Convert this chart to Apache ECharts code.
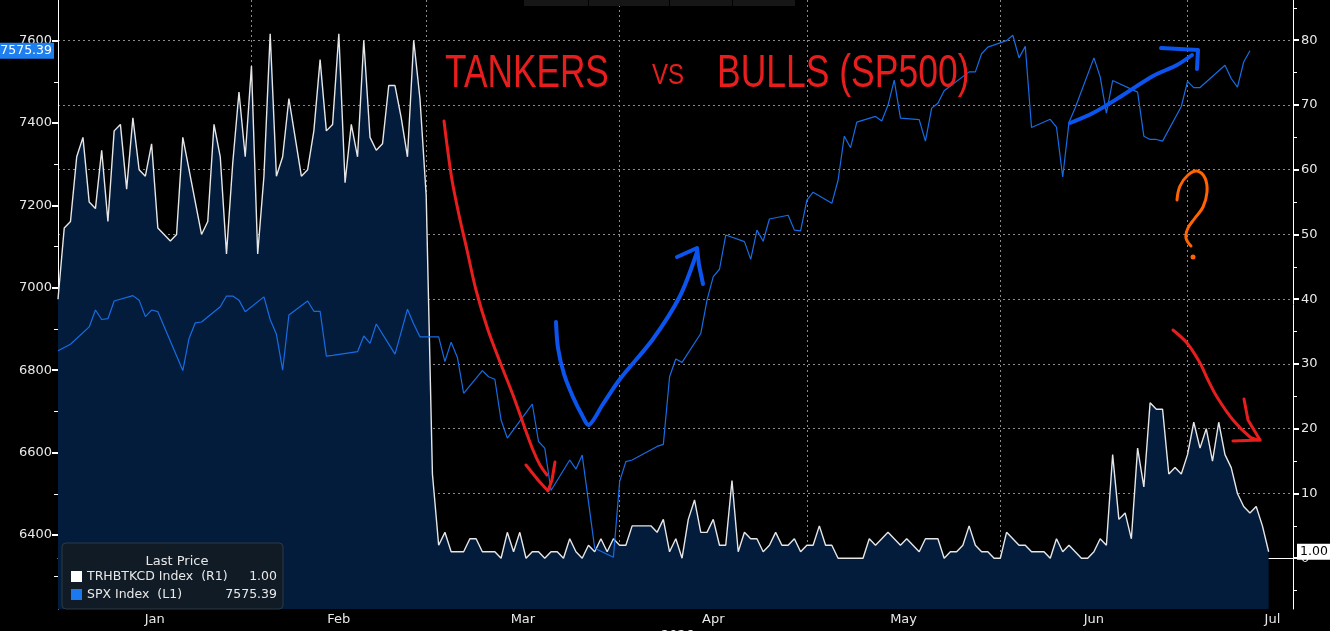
<!DOCTYPE html>
<html>
<head>
<meta charset="utf-8">
<title>Tankers vs Bulls</title>
<script src="https://cdn.jsdelivr.net/npm/echarts@6/dist/echarts.min.js"></script>
<style>
  html, body { margin: 0; padding: 0; background: #000; }
  #chart { width: 1330px; height: 631px; }
</style>
</head>
<body>
<div id="chart"></div>
<script>
var startDate = '2025-12-31';
var tankerName = 'TRHBTKCD Index';
var spxName = 'SPX Index';
var monthNames = ['Jan', 'Feb', 'Mar', 'Apr', 'May', 'Jun', 'Jul'];
var leftTicks = [6400, 6600, 6800, 7000, 7200, 7400, 7600];
var rightTicks = [0, 10, 20, 30, 40, 50, 60, 70, 80];
var holidays = ['2026-01-01', '2026-01-19', '2026-02-16', '2026-04-03', '2026-05-25', '2026-06-19', '2026-07-03'];

// TRHBTKCD, one value per calendar day from 2025-12-31
var tankerValues = [
  40, 51, 52, 62, 65, 55, 54, 63, 52, 66,
  67, 57, 68, 60, 59, 64, 51, 50, 49, 50,
  65, 60, 55, 50, 52, 67, 62, 47, 61, 72,
  62, 76, 47, 59, 81, 59, 62, 71, 65, 59,
  60, 66, 77, 66, 67, 81, 58, 67, 62, 80,
  65, 63, 64, 73, 73, 68, 62, 80, 71, 56,
  13, 2, 4, 1, 1, 1, 3, 3, 1, 1,
  1, 0, 4, 1, 4, 0, 1, 1, 0, 1,
  1, 0, 3, 1, 0, 2, 1, 3, 1, 3,
  2, 2, 5, 5, 5, 5, 4, 6, 1, 3,
  0, 6, 9, 4, 4, 6, 2, 2, 12, 1,
  4, 3, 3, 1, 2, 4, 2, 2, 3, 1,
  2, 2, 5, 2, 2, 0, 0, 0, 0, 0,
  3, 2, 3, 4, 3, 2, 3, 2, 1, 3,
  3, 3, 0, 1, 1, 2, 5, 2, 1, 1,
  0, 0, 4, 3, 2, 2, 1, 1, 1, 0,
  3, 1, 2, 1, 0, 0, 1, 3, 2, 16,
  6, 7, 3, 17, 11, 24, 23, 23, 13, 14,
  13, 16, 21, 17, 20, 15, 21, 16, 14, 10,
  8, 7, 8, 5, 1
];

// SPX, one value per trading day from 2025-12-31
var spxValues = [
  6847,
  6863, 6905, 6946, 6923, 6925, 6968, 6981, 6970, 6930, 6946, 6942,
  6799, 6877, 6915, 6917, 6954, 6980, 6980, 6970, 6942,
  6978, 6923, 6887, 6800, 6934, 6968, 6943, 6943, 6834, 6836,
  6845, 6883, 6865, 6912, 6839, 6893, 6948, 6912, 6881,
  6881, 6821, 6868, 6831, 6744, 6799, 6784, 6778, 6679, 6635,
  6697, 6718, 6627, 6611, 6508, 6582, 6560, 6594, 6481, 6368,
  6346, 6530,
  6578, 6582, 6615, 6620, 6784, 6827, 6819, 6889, 6970, 7027, 7045, 7128,
  7112, 7069, 7140, 7113, 7167, 7176, 7140, 7138, 7213,
  7232, 7205, 7261, 7368, 7340, 7402, 7416, 7405, 7443, 7504, 7412,
  7408, 7356, 7436, 7448, 7478, 7524, 7524, 7568, 7584,
  7600, 7613, 7558, 7586, 7389, 7409, 7390, 7269, 7401, 7437,
  7558, 7512, 7424, 7503, 7475, 7368, 7360, 7360, 7356, 7440, 7501,
  7486, 7486, 7540, 7508, 7487, 7548, 7575.39
];

var DAY = 86400000;
var start = Date.parse(startDate + 'T00:00:00Z');
var xMax = 197.9;

function isoOf(d) {
  return new Date(start + d * DAY).toISOString().slice(0, 10);
}

var tankerData = tankerValues.map(function (v, i) { return [i, v]; });

var spxData = [];
for (var d = 0; spxData.length < spxValues.length; d++) {
  var wd = new Date(start + d * DAY).getUTCDay();
  if (wd === 0 || wd === 6 || holidays.indexOf(isoOf(d)) >= 0) continue;
  spxData.push([d, spxValues[spxData.length]]);
}

// month boundaries (last day of each month) and label spots (middle of the month)
var monthEnds = [], monthMids = [];
monthNames.forEach(function (m, i) {
  var a = (Date.UTC(2026, i, 0) - start) / DAY;
  var b = (Date.UTC(2026, i + 1, 0) - start) / DAY;
  if (i > 0) monthEnds.push(a);
  monthMids.push(Math.min((a + b) / 2, xMax - 3.3));
});

var tankerLast = tankerValues[tankerValues.length - 1];
var spxLast = spxValues[spxValues.length - 1];

var labelFont = { color: '#e8e8e8', fontSize: 13, fontFamily: 'DejaVu Sans' };
var gridDash = { color: '#8a8a8a', width: 1, type: [2, 3] };
var plain = function (v) { return String(v); };

var redInk = '#e81e1e', blueInk = '#0b55ee', orangeInk = '#ff6400';
function ink (points, color, width, smooth) {
  return {
    type: 'polyline', z: 100,
    shape: { points: points, smooth: smooth },
    style: { stroke: color, lineWidth: width, fill: null, lineCap: 'round', lineJoin: 'round' }
  };
}
function scrawl (text, x, y, size, sx) {
  return {
    type: 'text', x: x, y: y, scaleX: sx, z: 100,
    style: { text: text, fill: redInk, fontSize: size, fontFamily: 'Liberation Sans', verticalAlign: 'middle' }
  };
}

var chart = echarts.init(document.getElementById('chart'));
chart.setOption({
  backgroundColor: '#000',
  animation: false,
  grid: { left: 58, right: 37, top: 0, bottom: 22 },
  title: {
    text: 'Last Price', left: 172, top: 550, textAlign: 'center',
    textStyle: { color: '#e8e8e8', fontSize: 13, fontWeight: 'normal', fontFamily: 'DejaVu Sans' }
  },
  legend: {
    data: [tankerName, spxName],
    orient: 'vertical', left: 62, top: 543,
    padding: [27, 6, 8, 9], itemGap: 5, itemWidth: 11, itemHeight: 11,
    icon: 'rect', selectedMode: false,
    backgroundColor: '#111b26', borderColor: '#2c3947', borderWidth: 1, borderRadius: 4,
    textStyle: {
      color: '#e8e8e8', fontSize: 12, fontFamily: 'DejaVu Sans',
      rich: { n: { width: 148, fontSize: 12.5, fontFamily: 'DejaVu Sans' }, v: { width: 42, align: 'right', fontSize: 12.5, fontFamily: 'DejaVu Sans' } }
    },
    formatter: function (name) {
      if (name === tankerName) return '{n|' + name + '  (R1)}{v|' + tankerLast.toFixed(2) + '}';
      return '{n|' + name + '  (L1)}{v|' + spxLast.toFixed(2) + '}';
    }
  },
  xAxis: {
    type: 'value', min: 0, max: xMax,
    axisLine: { lineStyle: { color: '#ffffff', width: 1 } },
    axisTick: { customValues: monthEnds, length: 4, lineStyle: { color: '#ffffff' } },
    axisLabel: Object.assign({
      customValues: monthMids, margin: 4,
      formatter: function (v) {
        for (var i = 0; i < monthMids.length; i++) if (Math.abs(monthMids[i] - v) < 0.01) return monthNames[i];
        return '';
      }
    }, labelFont),
    splitLine: { show: true, lineStyle: gridDash }
  },
  yAxis: [{
    type: 'value', position: 'left', min: 6220.4, max: 7698.5,
    minInterval: 200, maxInterval: 200,
    axisLine: { show: true, lineStyle: { color: '#ffffff' } },
    axisTick: { show: true, customValues: leftTicks, length: 6, lineStyle: { color: '#ffffff', width: 2 } },
    minorTick: { show: true, splitNumber: 2, length: 4, lineStyle: { color: '#ffffff' } },
    axisLabel: Object.assign({ customValues: leftTicks, margin: 6, formatter: plain }, labelFont),
    splitLine: { show: false }
  }, {
    type: 'value', position: 'right', min: -7.84, max: 86.21,
    minInterval: 10, maxInterval: 10,
    axisLine: { show: true, lineStyle: { color: '#ffffff' } },
    axisTick: { show: true, customValues: rightTicks, length: 6, lineStyle: { color: '#ffffff', width: 2 } },
    minorTick: { show: true, splitNumber: 2, length: 4, lineStyle: { color: '#ffffff' } },
    axisLabel: Object.assign({ customValues: rightTicks, margin: 8, formatter: plain }, labelFont),
    splitLine: { show: true, lineStyle: gridDash }
  }],
  series: [{
    name: tankerName, type: 'line', yAxisIndex: 1,
    data: tankerData, symbol: 'none',
    itemStyle: { color: '#ffffff' },
    lineStyle: { color: '#e6e6e6', width: 1.4 },
    areaStyle: { color: '#031c3b', opacity: 1, origin: 'start' },
    markLine: {
      silent: true, symbol: 'none', lineStyle: { color: 'rgba(0,0,0,0)', width: 0 },
      data: [{ yAxis: tankerLast }],
      label: {
        show: true, position: 'end', distance: 4, formatter: tankerLast.toFixed(2),
        backgroundColor: '#ffffff', color: '#000', padding: [2, 3, 1, 3],
        fontSize: 12.5, fontFamily: 'DejaVu Sans'
      }
    }
  }, {
    name: spxName, type: 'line', yAxisIndex: 0,
    data: spxData, symbol: 'none',
    itemStyle: { color: '#1a78f0' },
    lineStyle: { color: '#176ce4', width: 1.2 },
    markLine: {
      silent: true, symbol: 'none', lineStyle: { color: 'rgba(0,0,0,0)', width: 0 },
      data: [{ yAxis: spxLast }],
      label: {
        show: true, position: 'start', distance: 4, formatter: spxLast.toFixed(2),
        backgroundColor: '#1e7ff0', color: '#fff', padding: [2, 2, 1, 2],
        fontSize: 12.5, fontFamily: 'DejaVu Sans'
      }
    }
  }],
  graphic: [
    // terminal toolbar strip at the top edge
    { type: 'rect', z: 90, shape: { x: 524, y: 0, width: 271, height: 6 }, style: { fill: '#161616' } },
    { type: 'rect', z: 91, shape: { x: 588, y: 0, width: 1, height: 6 }, style: { fill: '#000' } },
    { type: 'rect', z: 91, shape: { x: 669, y: 0, width: 1, height: 6 }, style: { fill: '#000' } },
    { type: 'rect', z: 91, shape: { x: 732, y: 0, width: 1, height: 6 }, style: { fill: '#000' } },
    { type: 'text', x: 661, y: 629, z: 90, style: { text: '2026', fill: '#e8e8e8', fontSize: 13, fontFamily: 'DejaVu Sans', verticalAlign: 'top' } },
    // hand-written notes
    scrawl('TANKERS', 445, 74, 47, 0.75),
    scrawl('VS', 652, 76, 30, 0.8),
    scrawl('BULLS (SP500)', 717, 74, 47, 0.755),
    ink([[444, 121], [447, 145], [452, 180], [459, 215], [467, 250], [476, 290], [488, 330], [500, 362], [513, 395], [523, 423], [533, 450], [540, 465], [547, 475]], redInk, 3, 0.3),
    ink([[526, 465], [538, 480], [548, 491], [552, 480], [555, 462]], redInk, 3, 0),
    ink([[556, 322], [558, 348], [564, 374], [573, 397], [582, 415], [589, 425], [603, 404], [620, 379], [653, 339], [680, 296], [697, 252]], blueInk, 4, 0.3),
    ink([[677, 257], [697, 248], [699, 265], [703, 284]], blueInk, 4, 0),
    ink([[1070, 123], [1093, 113], [1120, 97], [1153, 76], [1177, 65], [1192, 55]], blueInk, 4, 0.3),
    ink([[1161, 48], [1198, 50], [1197, 69]], blueInk, 4, 0),
    ink([[1177, 200], [1180, 186], [1188, 175], [1197, 171], [1205, 178], [1207, 192], [1203, 207], [1195, 218], [1188, 228], [1186, 238], [1191, 246]], orangeInk, 3, 0.4),
    { type: 'circle', z: 100, shape: { cx: 1193, cy: 257, r: 2.5 }, style: { fill: orangeInk } },
    ink([[1173, 330], [1187, 343], [1200, 363], [1208, 380], [1217, 397], [1233, 420], [1250, 437], [1258, 440]], redInk, 3, 0.3),
    ink([[1233, 441], [1260, 440]], redInk, 3, 0),
    ink([[1244, 399], [1248, 420], [1260, 440]], redInk, 3, 0)
  ]
});
</script>
</body>
</html>
